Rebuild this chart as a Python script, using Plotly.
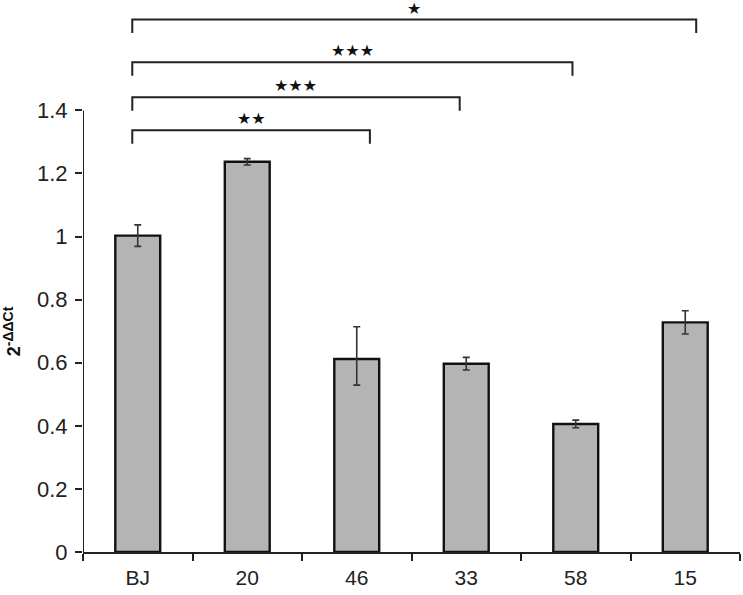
import plotly.graph_objects as go

categories = ["BJ", "20", "46", "33", "58", "15"]
values = [1.003, 1.237, 0.612, 0.597, 0.406, 0.728]
err_plus = [0.034, 0.010, 0.102, 0.020, 0.012, 0.037]
err_minus = [0.034, 0.010, 0.083, 0.020, 0.012, 0.037]
y_ticks = [0, 0.2, 0.4, 0.6, 0.8, 1.0, 1.2, 1.4]
y_tick_labels = ["0", "0.2", "0.4", "0.6", "0.8", "1", "1.2", "1.4"]

# significance brackets: (left x, right x, line y, label)
brackets = [
    (-0.05, 2.12, 1.337, "★★"),
    (-0.05, 2.94, 1.442, "★★★"),
    (-0.05, 3.97, 1.553, "★★★"),
    (-0.05, 5.10, 1.688, "★"),
]
bracket_drop = 0.043
star_offset = 0.036

fig = go.Figure()
fig.add_trace(go.Bar(
    x=categories, y=values, width=0.41,
    marker=dict(color="#b4b4b4", line=dict(color="#111111", width=2.4)),
    error_y=dict(type="data", symmetric=False, array=err_plus, arrayminus=err_minus,
                 color="#333333", thickness=1.6, width=3.5),
))

shapes = []
annotations = []
for x0, x1, yb, lab in brackets:
    shapes.append(dict(type="path", xref="x", yref="y",
                       path=f"M {x0},{yb - bracket_drop} L {x0},{yb} L {x1},{yb} L {x1},{yb - bracket_drop}",
                       line=dict(color="#222222", width=2)))
    annotations.append(dict(x=(x0 + x1) / 2, y=yb + star_offset, xref="x", yref="y", text=lab,
                            showarrow=False, yanchor="middle",
                            font=dict(family="DejaVu Sans", size=16, color="#111111")))
# y axis line only up to 1.4
shapes.append(dict(type="line", xref="x", yref="y", x0=-0.5, x1=-0.5, y0=0, y1=1.4,
                   line=dict(color="#222222", width=2)))
# y axis title (centered on the 0-1.4 axis part)
annotations.append(dict(x=0, xref="paper", xshift=-71, y=0.7, yref="y",
                        text="<b>2<sup><span style='font-size:14px'>-ΔΔCt</span></sup></b>",
                        textangle=-90, showarrow=False,
                        xanchor="center", yanchor="middle",
                        font=dict(family="Liberation Sans, Arial", size=18, color="#111111")))

fig.update_layout(
    width=743, height=595,
    margin=dict(l=83, r=3, t=0, b=43),
    plot_bgcolor="white", paper_bgcolor="white",
    showlegend=False,
    shapes=shapes, annotations=annotations,
    font=dict(family="Liberation Sans, Arial", color="#222222"),
)
fig.update_xaxes(
    range=[-0.5, 5.5], showline=True, linecolor="#222222", linewidth=2,
    ticks="outside", tickson="boundaries", ticklen=7, tickwidth=2, tickcolor="#222222",
    tickfont=dict(size=21, color="#222222"), showgrid=False, zeroline=False,
    automargin=False, ticklabelstandoff=6,
)
fig.update_yaxes(
    range=[0, 1.75], showline=False,
    tickvals=y_ticks, ticktext=y_tick_labels,
    ticks="outside", ticklen=7, tickwidth=2, tickcolor="#222222",
    tickfont=dict(size=22, color="#222222"), showgrid=False, zeroline=False,
    automargin=False, ticklabelstandoff=3,
)

fig.write_html("out.html", config={"displayModeBar": False},
               post_script="document.body.style.margin='0';document.body.style.overflow='hidden';")
